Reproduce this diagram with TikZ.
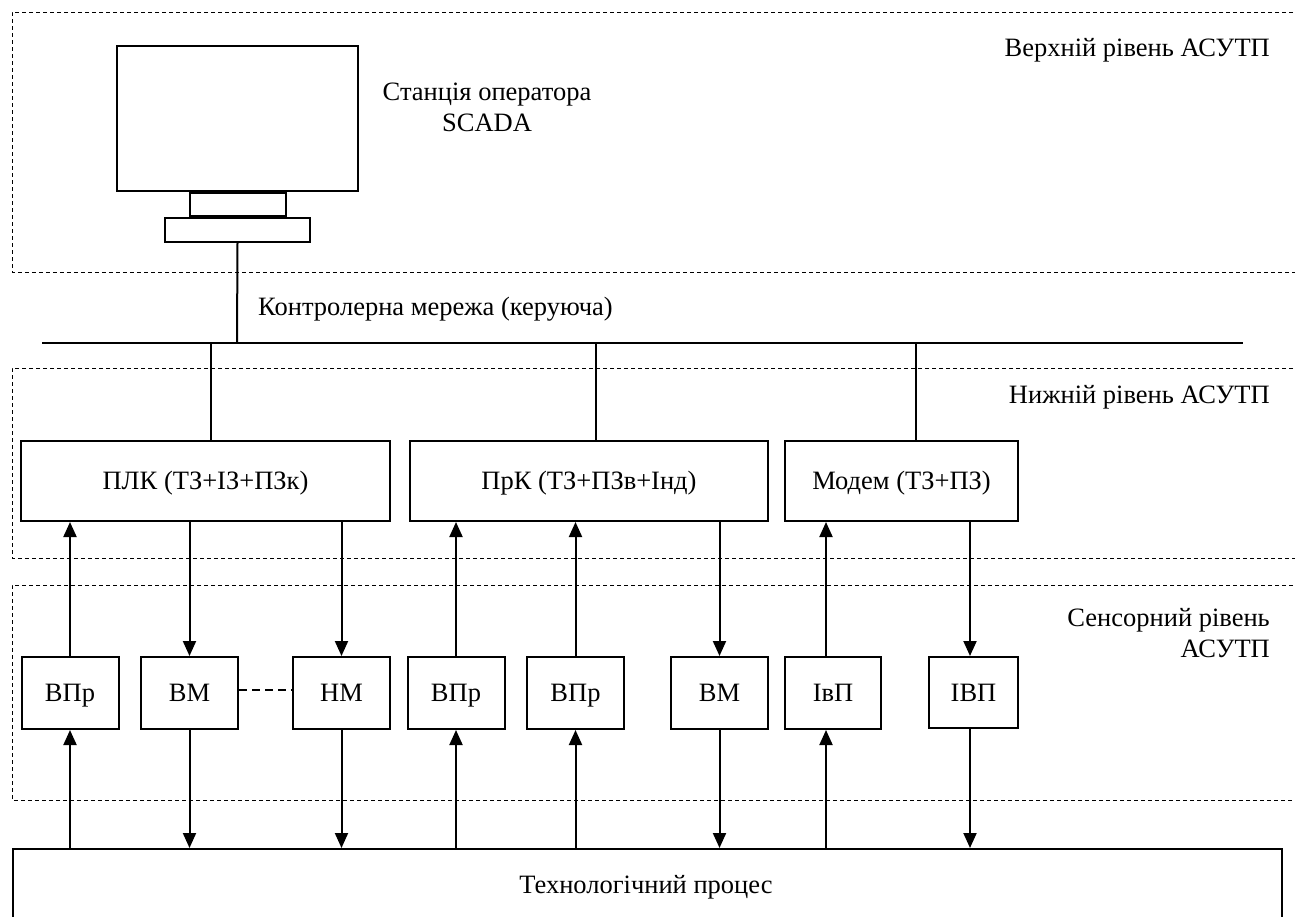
\documentclass[tikz,border=0pt]{standalone}
\usepackage{fontspec}
\setmainfont{Liberation Serif}
\usetikzlibrary{arrows.meta}
\begin{document}
\begin{tikzpicture}[x=1pt,y=-1pt,
  box/.style={draw,line width=2pt,rectangle,inner sep=0pt,font=\fontsize{26.5}{31}\selectfont,text height=17.5pt,text depth=0pt},
  sbox/.style={box,minimum width=97pt,minimum height=72pt},
  lvl/.style={draw,line width=0.8pt,dash pattern=on 4pt off 3pt},
  conn/.style={draw,line width=1.7pt},
  arr/.style={draw,line width=2pt,-{Triangle[length=15pt,width=13pt]}},
  lbl/.style={font=\fontsize{26.5}{31}\selectfont,inner sep=0pt}]
\path[use as bounding box] (0,0) rectangle (1295,916);
\clip (0,0) rectangle (1295,916);
\fill[white] (0,0) rectangle (1295,916);
% level frames
\draw[lvl] (1300,12) -- (12,12) -- (12,272) -- (1300,272);
\draw[lvl] (1300,368) -- (12,368) -- (12,558) -- (1300,558);
\draw[lvl] (1300,585) -- (12,585) -- (12,800) -- (1300,800);
% level labels
\node[lbl,anchor=east] (lup) at (1270,50) {Верхній рівень АСУТП};
\node[lbl,anchor=east] (llow) at (1270,397) {Нижній рівень АСУТП};
\node[lbl,anchor=east,align=right] (lsens) at (1270,633) {Сенсорний рівень\\АСУТП};
% operator station
\node[box,minimum width=241pt,minimum height=145pt] (mon) at (237.5,118.5) {};
\node[box,minimum width=96pt,minimum height=23pt,anchor=north] (stand) at (mon.south) {};
\node[box,minimum width=145pt,minimum height=24pt,anchor=north] (base) at (stand.south) {};
\node[lbl,align=center] (st) at (487,107) {Станція оператора\\SCADA};
% bus
\coordinate (busL) at (42,343);
\coordinate (busR) at (1243,343);
\draw[conn,line width=2.2pt] (busL) -- (busR);
\coordinate (bs) at (237,343);
\draw[conn,line width=2pt] (base.south) -- (bs);
\node[lbl,anchor=west] (net) at (258,309) {Контролерна мережа (керуюча)};
% controllers
\node[box,minimum width=369pt,minimum height=80pt] (plk) at (205.5,481) {ПЛК (ТЗ+ІЗ+ПЗк)};
\node[box,minimum width=358pt,minimum height=80pt] (prk) at (589,481) {ПрК (ТЗ+ПЗв+Інд)};
\node[box,minimum width=233pt,minimum height=80pt] (mod) at (901.5,481) {Модем (ТЗ+ПЗ)};
\coordinate (b1) at (211,343);
\coordinate (b2) at (596,343);
\coordinate (b3) at (916,343);
\draw[conn] (b1) -- (plk.north -| b1);
\draw[conn] (b2) -- (prk.north -| b2);
\draw[conn] (b3) -- (mod.north -| b3);
% sensor devices
\node[sbox] (vpr1) at (70,693) {ВПр};
\node[sbox] (vm1) at (189.5,693) {ВМ};
\node[sbox] (nm) at (341.5,693) {НМ};
\node[sbox] (vpr2) at (456,693) {ВПр};
\node[sbox] (vpr3) at (575.5,693) {ВПр};
\node[sbox] (vm2) at (719.5,693) {ВМ};
\node[sbox,minimum width=96pt] (ivp) at (833,693) {ІвП};
\node[sbox,minimum width=89pt,minimum height=71pt] (ivp2) at (973.5,692.5) {ІВП};
\draw[line width=2.4pt,dash pattern=on 8pt off 5pt] (vm1.east |- 0,690) -- (nm.west |- 0,690);
% process
\node[box,minimum width=1269pt,minimum height=82pt,anchor=north west] (proc) at (12,848) {};
\node[lbl] (proct) at (646,887) {Технологічний процес};
% arrows controller <-> devices
\draw[arr] (vpr1.north) -- (vpr1.north |- plk.south);
\draw[arr] (vm1.north |- plk.south) -- (vm1.north);
\draw[arr] (nm.north |- plk.south) -- (nm.north);
\draw[arr] (vpr2.north) -- (vpr2.north |- prk.south);
\draw[arr] (vpr3.north) -- (vpr3.north |- prk.south);
\draw[arr] (vm2.north |- prk.south) -- (vm2.north);
\coordinate (ia) at (826,0);
\coordinate (ib) at (970,0);
\draw[arr] (ivp.north -| ia) -- (mod.south -| ia);
\draw[arr] (mod.south -| ib) -- (ivp2.north -| ib);
% arrows process <-> devices
\draw[arr] (vpr1.south |- proc.north) -- (vpr1.south);
\draw[arr] (vm1.south) -- (vm1.south |- proc.north);
\draw[arr] (nm.south) -- (nm.south |- proc.north);
\draw[arr] (vpr2.south |- proc.north) -- (vpr2.south);
\draw[arr] (vpr3.south |- proc.north) -- (vpr3.south);
\draw[arr] (vm2.south) -- (vm2.south |- proc.north);
\draw[arr] (proc.north -| ia) -- (ivp.south -| ia);
\draw[arr] (ivp2.south -| ib) -- (proc.north -| ib);
\end{tikzpicture}
\end{document}
